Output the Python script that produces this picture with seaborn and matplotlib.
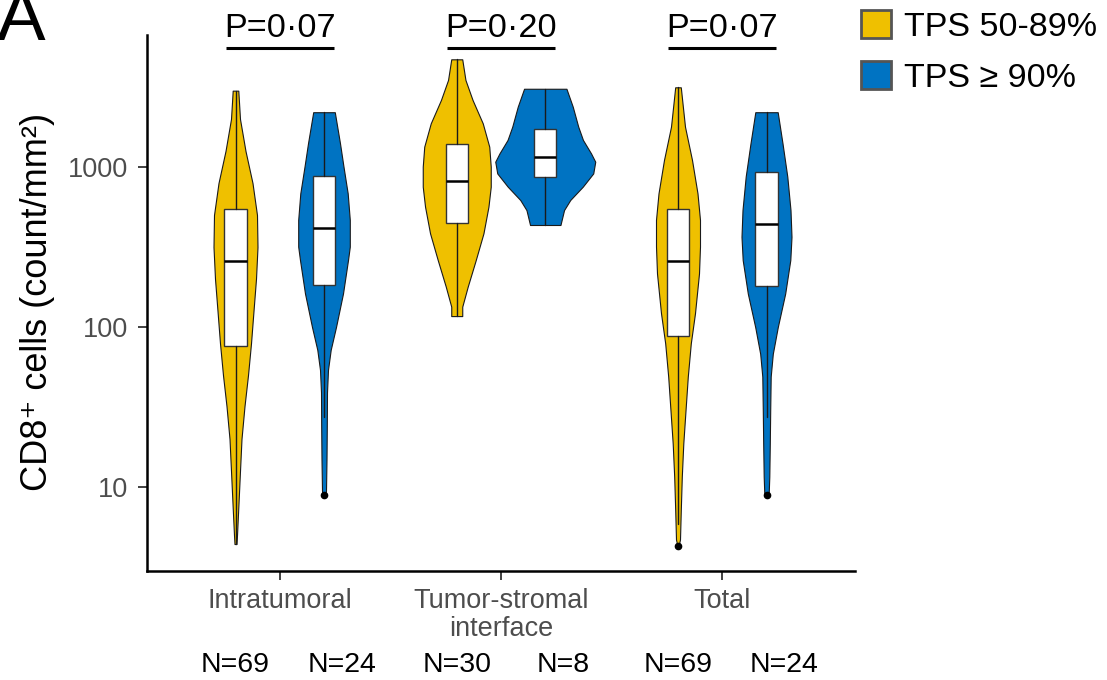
import matplotlib
matplotlib.use("Agg")
import matplotlib.pyplot as plt
import matplotlib.transforms as mtransforms
from matplotlib.patches import Patch
import seaborn as sns

# ---------------- data ----------------
regions = ["Intratumoral", "Tumor-stromal\ninterface", "Total"]
groups = ["TPS 50-89%", "TPS \u2265 90%"]
n_labels = ["N=69", "N=24", "N=30", "N=8", "N=69", "N=24"]
p_labels = ["P=0\u00b707", "P=0\u00b720", "P=0\u00b707"]
y_ticks = [10, 100, 1000]
y_tick_labels = ["10", "100", "1000"]

# violin outlines: y value (count/mm2) and relative half-width (density)
intra_lo_val = [3000, 1995, 1259, 794, 501, 316, 200, 126, 79, 50, 32, 20, 12.6, 7.9, 5.0, 4.4]
intra_lo_den = [2.8, 4.5, 10, 17, 21.5, 22, 20.5, 18, 15.5, 12.5, 9, 6, 4.5, 3, 1.5, 1]
intra_hi_val = [2200, 1406, 1005, 684, 467, 318, 262, 162, 100, 72, 54, 39, 24, 14.8, 9.5, 8.9]
intra_hi_den = [10.8, 16, 19.5, 23.7, 25.8, 25.8, 24, 19, 12, 6.7, 4, 3, 2.8, 2.5, 2, 1.5]
tsi_lo_val = [4710, 3500, 2624, 1875, 1340, 1005, 753, 565, 385, 262, 179, 134, 117]
tsi_lo_den = [5.5, 8.7, 15.8, 26, 32.5, 34, 34, 31.7, 26.7, 19, 11, 5.5, 5.5]
tsi_hi_val = [3083, 2382, 1786, 1476, 1216, 1079, 912, 753, 622, 538, 434]
tsi_hi_den = [21.2, 27.5, 33, 37.7, 45.8, 50, 48, 37.5, 25, 18.8, 15.2]
total_lo_val = [3148, 1786, 1107, 684, 467, 318, 216, 122, 79, 49, 30, 18.7, 11.6, 7.2, 4.7, 4.4]
total_lo_den = [2.8, 7, 14, 19.5, 22, 22, 21, 17, 12.8, 9.8, 7.5, 5.3, 3.8, 2.8, 2, 1]
total_hi_val = [2200, 1406, 871, 538, 366, 262, 162, 100, 68, 49, 30, 18.7, 11.6, 9.1]
total_hi_den = [11.2, 16, 20.8, 24, 25, 23.8, 18.7, 11.3, 6.3, 4.2, 3.7, 3.3, 2.8, 2.2]

# box-plot statistics per violin (order: region x group)
box_q1 = [76, 182, 447, 870, 88, 181]
box_med = [257, 418, 822, 1155, 257, 443]
box_q3 = [545, 883, 1387, 1718, 545, 935]
whisk_lo = [4.4, 27.5, 117, 434, 5.9, 27.5]
whisk_hi = [3000, 2200, 4710, 3083, 3150, 2200]
outliers = [[], [8.9], [], [], [4.3], [8.9]]

violin_vals = [intra_lo_val, intra_hi_val, tsi_lo_val, tsi_hi_val, total_lo_val, total_hi_val]
violin_dens = [intra_lo_den, intra_hi_den, tsi_lo_den, tsi_hi_den, total_lo_den, total_hi_den]

# ---------------- style ----------------
sns.set_theme(style="ticks")
plt.rcParams["font.family"] = ["Liberation Sans", "DejaVu Sans"]
plt.rcParams["text.color"] = "black"
palette = ["#EFC000", "#0073C2"]

fig, ax = plt.subplots(figsize=(11.07, 6.80), dpi=100)
fig.subplots_adjust(left=147 / 1107, right=855 / 1107, bottom=1 - 571 / 680, top=1 - 35 / 680)
ax.set_yscale("log")
ax.set_ylim(2.985, 6683)
ax.set_xlim(-0.6, 2.6)

DODGE = 0.2
WIDTH_SCALE = 1 / 221.25  # density units -> x data units
BOX_W = 0.1

positions = []
for i, (vals, dens) in enumerate(zip(violin_vals, violin_dens)):
    r, g = divmod(i, 2)
    xc = r + (-DODGE if g == 0 else DODGE)
    positions.append(xc)
    half = [d * WIDTH_SCALE for d in dens]
    ax.fill_betweenx(vals, [xc - h for h in half], [xc + h for h in half],
                     facecolor=palette[g], edgecolor="#1a1a1a", linewidth=0.8, zorder=2)

stats = []
for i in range(6):
    stats.append(dict(q1=box_q1[i], med=box_med[i], q3=box_q3[i],
                      whislo=whisk_lo[i], whishi=whisk_hi[i], fliers=outliers[i]))
ax.bxp(stats, positions=positions, widths=BOX_W, patch_artist=True, showcaps=False,
       boxprops=dict(facecolor="white", edgecolor="#333333", linewidth=1.0),
       medianprops=dict(color="black", linewidth=1.8),
       whiskerprops=dict(color="#1a1a1a", linewidth=1.0),
       flierprops=dict(marker="o", markerfacecolor="black", markeredgecolor="black",
                       markersize=4.5), zorder=3)

ax.set_yticks(y_ticks)
ax.set_yticklabels(y_tick_labels)
ax.yaxis.set_minor_locator(matplotlib.ticker.NullLocator())
ax.set_xticks(range(len(regions)))
ax.set_xticklabels(regions, linespacing=1.1)
ax.tick_params(axis="both", length=6.5, width=1.3, color="#333333",
               labelcolor="#4D4D4D", labelsize=19.5)
ax.tick_params(axis="y", pad=7)
ax.tick_params(axis="x", pad=5.5)
sns.despine(ax=ax)
for s in ("left", "bottom"):
    ax.spines[s].set_linewidth(1.8)
    ax.spines[s].set_color("black")
ax.grid(False)

ax.set_ylabel("CD8\u207a cells (count/mm\u00b2)", fontsize=26, color="black", va="center")
ax.yaxis.set_label_coords(-0.154, 0.502)

# P-values with underline
xa = ax.get_xaxis_transform()
for r, p in enumerate(p_labels):
    ax.text(r, 0.9957, p, transform=xa, ha="center", va="baseline", fontsize=24.7,
            color="black", clip_on=False)
    ax.plot([r - 0.245, r + 0.245], [0.9763, 0.9763], transform=xa, color="black",
            linewidth=2.2, clip_on=False, solid_capstyle="butt")

# N labels under the axis
bt = mtransforms.blended_transform_factory(ax.transData, fig.transFigure)
for i, lab in enumerate(n_labels):
    r, g = divmod(i, 2)
    x = r + (-0.2 if g == 0 else 0.28)
    ax.text(x, 1 - 665 / 680, lab, transform=bt, ha="center", va="center",
            fontsize=20.5, color="black", clip_on=False)

# panel letter
fig.text(-0.003, 1 - 40.5 / 680, "A", fontsize=52.5, ha="left", va="baseline", color="black")

# legend
handles = [Patch(facecolor=palette[k], edgecolor="#555555", linewidth=2, label=groups[k])
           for k in range(2)]
fig.legend(handles=handles, loc="upper left", bbox_to_anchor=(861 / 1107, 1 - 10 / 680),
           frameon=False, fontsize=24.5, handlelength=0.88, handleheight=0.88,
           handletextpad=0.38, labelspacing=0.54, borderpad=0, borderaxespad=0,
           labelcolor="black")

fig.savefig("out.png", dpi=100)
